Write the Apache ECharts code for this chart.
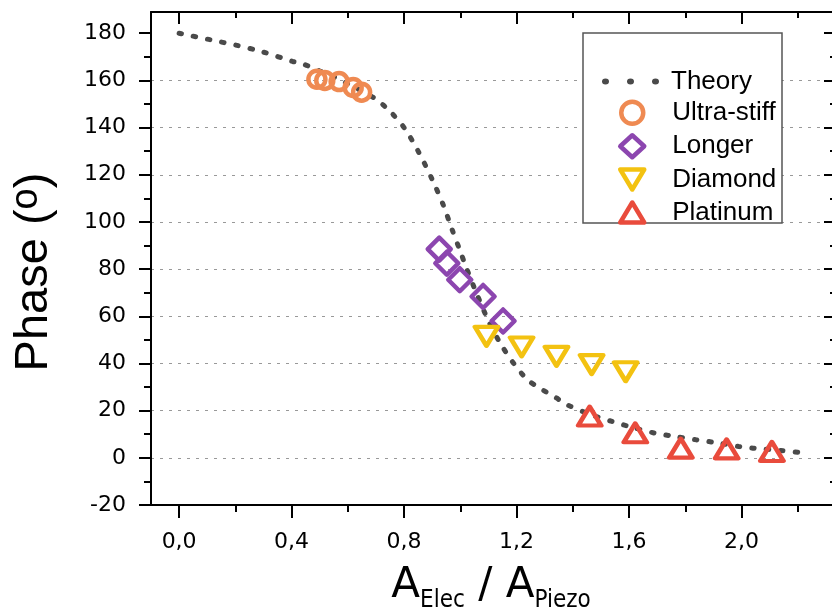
<!DOCTYPE html>
<html>
<head>
<meta charset="utf-8">
<script src="https://cdn.jsdelivr.net/npm/echarts@6/dist/echarts.min.js"></script>
<style>
  html, body { margin: 0; padding: 0; background: #fff; }
  #chart { width: 832px; height: 616px; }
</style>
</head>
<body>
<div id="chart"></div>
<script>
// theory curve
const theoryX = [0, 0.04, 0.1, 0.14, 0.2, 0.3, 0.405, 0.44, 0.5, 0.55, 0.6, 0.65, 0.7, 0.745, 0.8, 0.85, 0.9, 0.94, 0.97, 1.0, 1.02, 1.05, 1.1, 1.14, 1.19, 1.24, 1.29, 1.34, 1.38, 1.46, 1.54, 1.6, 1.69, 1.75, 1.84, 1.9, 1.99, 2.04, 2.14, 2.2]
const theoryY = [180, 179, 177.5, 176.5, 175, 172, 168, 167, 164, 161.5, 158.5, 155.5, 152, 147.5, 140, 130, 118, 107, 97, 87.5, 81, 72, 58, 49, 40, 33, 29, 25.5, 22.5, 18.5, 15.4, 13.3, 10.5, 9.3, 7.6, 6.6, 4.8, 4.1, 3.1, 2.4]

const ultraX = [0.49, 0.518, 0.569, 0.619, 0.649]
const ultraY = [160.5, 160, 159.5, 157, 155]
const longerX = [0.925, 0.952, 0.998, 1.081, 1.152]
const longerY = [88.5, 82.5, 75.5, 68.4, 58]
const diamondX = [1.093, 1.218, 1.342, 1.467, 1.588]
const diamondY = [51.5, 47, 43, 39.5, 36.5]
const platinumX = [1.46, 1.622, 1.784, 1.947, 2.108]
const platinumY = [17.7, 10.6, 4.1, 3.8, 2.7]

const xMajor = [0, 0.4, 0.8, 1.2, 1.6, 2.0]
const xMinor = [0.2, 0.6, 1.0, 1.4, 1.8, 2.2]
const yMajor = [-20, 0, 20, 40, 60, 80, 100, 120, 140, 160, 180]
const yMinor = [-10, 10, 30, 50, 70, 90, 110, 130, 150, 170]

const X_MIN = -0.1
const X_MAX = 2.336
const Y_MIN = -20
const Y_MAX = 189

const tickFont = 'DejaVu Sans, Verdana, sans-serif'
const textFont = 'Liberation Sans, Arial, sans-serif'

const triUp = 'path://M12,0L24,20L0,20Z'
const triDown = 'path://M0,0L24,0L12,20Z'

const pairs = (xs, ys) => xs.map((x, i) => [x, ys[i]])

function frameAxis(min, max, position, values, opts) {
  return {
    type: 'value',
    min: min,
    max: max,
    position: position,
    axisLine: { show: opts.line, onZero: false, lineStyle: { color: '#000', width: 2 } },
    axisTick: {
      show: true,
      inside: opts.inside,
      length: opts.len,
      customValues: values,
      lineStyle: { color: '#000', width: 2 }
    },
    axisLabel: { show: false },
    splitLine: { show: false }
  }
}

const chart = echarts.init(document.getElementById('chart'))

const xBottom = frameAxis(X_MIN, X_MAX, 'bottom', xMajor, { line: true, inside: false, len: 13 })
xBottom.axisLabel = {
  show: true,
  customValues: xMajor,
  margin: 26,
  color: '#000',
  fontSize: 22,
  fontFamily: tickFont,
  formatter: v => v.toFixed(1).replace('.', ',')
}

const yLeft = frameAxis(Y_MIN, Y_MAX, 'left', yMajor, { line: true, inside: false, len: 12 })
yLeft.interval = 20
yLeft.axisLabel = {
  show: true,
  customValues: yMajor,
  margin: 25,
  color: '#000',
  fontSize: 22,
  fontFamily: tickFont
}
yLeft.splitLine = {
  show: true,
  showMinLine: false,
  showMaxLine: false,
  lineStyle: { color: '#999', width: 1.2, type: [3, 6] }
}

chart.setOption({
  animation: false,
  backgroundColor: '#fff',
  grid: { left: 151, top: 12, width: 685, height: 493, containLabel: false, outerBoundsMode: 'none' },
  xAxis: [
    xBottom,
    frameAxis(X_MIN, X_MAX, 'bottom', xMinor, { line: false, inside: false, len: 7 }),
    frameAxis(X_MIN, X_MAX, 'top', xMajor, { line: true, inside: true, len: 12 }),
    frameAxis(X_MIN, X_MAX, 'top', xMinor, { line: false, inside: true, len: 6 })
  ],
  yAxis: [
    yLeft,
    frameAxis(Y_MIN, Y_MAX, 'left', yMinor, { line: false, inside: false, len: 7 }),
    frameAxis(Y_MIN, Y_MAX, 'right', yMajor, { line: true, inside: true, len: 12 }),
    frameAxis(Y_MIN, Y_MAX, 'right', yMinor, { line: false, inside: true, len: 6 })
  ],
  legend: [
    {
      data: [{ name: 'Theory', icon: 'path://M0,3a3.5,3 0 1,0 7,0a3.5,3 0 1,0 -7,0Z M25,3a3.5,3 0 1,0 7,0a3.5,3 0 1,0 -7,0Z M50,3a3.5,3 0 1,0 7,0a3.5,3 0 1,0 -7,0Z' }],
      orient: 'vertical',
      left: 602,
      top: 68.5,
      padding: 0,
      itemWidth: 57,
      itemHeight: 6,
      itemGap: 7,
      itemStyle: { borderWidth: 0 },
      textStyle: { fontSize: 26, lineHeight: 25, color: '#000', fontFamily: textFont, padding: [0, 0, 0, 7] }
    },
    {
      data: ['Ultra-stiff', 'Longer', 'Diamond', 'Platinum'],
      orient: 'vertical',
      left: 618,
      top: 99.5,
      padding: 0,
      itemWidth: 24,
      itemHeight: 22,
      itemGap: 7,
      itemStyle: { borderWidth: 4.5 },
      textStyle: { fontSize: 26, lineHeight: 25, color: '#000', fontFamily: textFont, padding: [0, 0, 0, 23] }
    }
  ],
  graphic: [
    {
      type: 'rect',
      z: 3,
      shape: { x: 583, y: 33, width: 199, height: 190 },
      style: { fill: '#fff', stroke: '#555', lineWidth: 1.5 }
    },
    {
      type: 'text',
      x: 58,
      y: 272,
      rotation: Math.PI / 2,
      style: {
        text: '{t|Phase (}{o|o}{t|)}',
        align: 'center',
        verticalAlign: 'bottom',
        fill: '#000',
        rich: {
          t: { fontSize: 47, lineHeight: 50, verticalAlign: 'bottom', fontFamily: textFont, fill: '#000' },
          o: { fontSize: 38, lineHeight: 50, verticalAlign: 'bottom', padding: [0, 0, 12, 0], fontFamily: textFont, fill: '#000' }
        }
      }
    },
    {
      type: 'text',
      x: 491,
      y: 613,
      style: {
        text: '{a|A}{s|Elec}{a| / A}{s|Piezo}',
        align: 'center',
        verticalAlign: 'bottom',
        fill: '#000',
        rich: {
          a: { fontSize: 42, lineHeight: 50, verticalAlign: 'bottom', padding: [0, 0, 6, 0], fontFamily: tickFont, fill: '#000' },
          s: { fontSize: 24, lineHeight: 26, verticalAlign: 'bottom', fontFamily: 'DejaVu Sans Condensed, DejaVu Sans, sans-serif', fill: '#000' }
        }
      }
    }
  ],
  series: [
    {
      name: 'Theory',
      type: 'line',
      data: pairs(theoryX, theoryY),
      smooth: 0.3,
      symbol: 'none',
      itemStyle: { color: '#4a4a4a' },
      lineStyle: { color: '#4a4a4a', width: 5, type: [2.5, 12], cap: 'round' },
      z: 2
    },
    {
      name: 'Ultra-stiff',
      type: 'scatter',
      data: pairs(ultraX, ultraY),
      symbol: 'circle',
      symbolSize: 17,
      itemStyle: { color: 'rgba(255,255,255,0)', borderColor: '#EF8A52', borderWidth: 4.5, opacity: 1 },
      z: 3
    },
    {
      name: 'Longer',
      type: 'scatter',
      data: pairs(longerX, longerY),
      symbol: 'diamond',
      symbolSize: 23,
      itemStyle: { color: 'rgba(255,255,255,0)', borderColor: '#8C46AF', borderWidth: 4.5, borderJoin: 'round', opacity: 1 },
      z: 3
    },
    {
      name: 'Diamond',
      type: 'scatter',
      data: pairs(diamondX, diamondY),
      symbol: triDown,
      symbolSize: [23, 19],
      itemStyle: { color: 'rgba(255,255,255,0)', borderColor: '#F3C211', borderWidth: 4.5, borderJoin: 'round', opacity: 1 },
      z: 3
    },
    {
      name: 'Platinum',
      type: 'scatter',
      data: pairs(platinumX, platinumY),
      symbol: triUp,
      symbolSize: [23, 19],
      itemStyle: { color: 'rgba(255,255,255,0)', borderColor: '#E94B3C', borderWidth: 4.5, borderJoin: 'round', opacity: 1 },
      z: 3
    }
  ]
})
</script>
</body>
</html>
